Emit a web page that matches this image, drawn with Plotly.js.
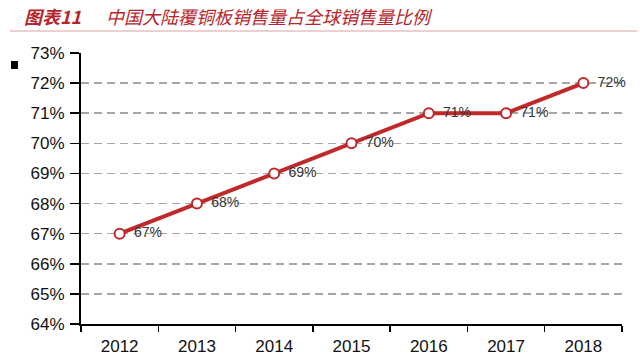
<!DOCTYPE html>
<html><head><meta charset="utf-8">
<script src="https://cdn.plot.ly/plotly-3.0.1.min.js"></script>
<style>html,body{margin:0;padding:0;background:#fff}#c{width:640px;height:364px}</style>
</head><body><div id="c"></div>
<script>
const years = ['2012','2013','2014','2015','2016','2017','2018'];
const share = [67, 68, 69, 70, 71, 71, 72];
const labels = ['67%','68%','69%','70%','71%','71%','72%'];
const yTicks = [64,65,66,67,68,69,70,71,72,73];
const yTickText = ['64%','65%','66%','67%','68%','69%','70%','71%','72%','73%'];
const figTitleNum = '图表11';
const figTitle = '中国大陆覆铜板销售量占全球销售量比例';

const L=81, R=622, T=53, B=324, W=640, H=364;
const px = x => (x-L)/(R-L);
const py = y => (B-y)/(B-T);

const annotations = [
  {x:px(22), y:py(16), xref:'paper', yref:'paper', xanchor:'left', yanchor:'middle',
   text:'<b><i>'+figTitleNum+'</i></b>', showarrow:false,
   font:{family:'Noto Sans CJK SC', size:18, color:'#B5252B'}},
  {x:px(104), y:py(16), xref:'paper', yref:'paper', xanchor:'left', yanchor:'middle',
   text:'<i>'+figTitle+'</i>', showarrow:false,
   font:{family:'Noto Sans CJK SC', size:18, color:'#B5252B'}}
];

const data = [{
  x: years, y: share, type:'scatter', mode:'lines+markers+text',
  text: labels.map(s => '\u2002' + s), textposition:'middle right',
  textfont:{family:'Liberation Sans, Arial', size:14, color:'#333'},
  line:{color:'#C0282A', width:4},
  marker:{size:10, color:'#fff', line:{color:'#C0282A', width:2}},
  hoverinfo:'none', cliponaxis:false
}];

const layout = {
  width:W, height:H, margin:{l:L, r:W-R, t:T, b:H-B},
  paper_bgcolor:'#fff', plot_bgcolor:'#fff', showlegend:false,
  font:{family:'Liberation Sans, Arial', color:'#111'},
  xaxis:{type:'category', tickson:'boundaries', ticks:'outside', ticklen:6, tickwidth:1.5, tickcolor:'#000',
    showline:true, linecolor:'#000', linewidth:2, showgrid:false, zeroline:false, ticklabelstandoff:6,
    tickfont:{size:17, color:'#111'}, range:[-0.5,6.5], fixedrange:true},
  yaxis:{range:[64,73], tickvals:yTicks, ticktext:yTickText, ticks:'outside', ticklen:9, tickwidth:1.5, tickcolor:'#000',
    showline:true, linecolor:'#000', linewidth:2, showgrid:true, gridcolor:'#a6a6a6', griddash:'8px,5px', gridwidth:1.5,
    zeroline:false, tickfont:{size:17, color:'#111'}, ticklabelstandoff:2, fixedrange:true},
  shapes:[
    {type:'line', xref:'paper', yref:'paper', x0:px(10), x1:px(637), y0:py(31), y1:py(31), line:{color:'#D9A0A0', width:1}},
    {type:'rect', xref:'paper', yref:'paper', x0:px(11), x1:px(18), y0:py(61), y1:py(69), fillcolor:'#000', line:{width:0}}
  ],
  annotations: annotations
};
Plotly.newPlot('c', data, layout, {staticPlot:true, displayModeBar:false});
</script></body></html>
